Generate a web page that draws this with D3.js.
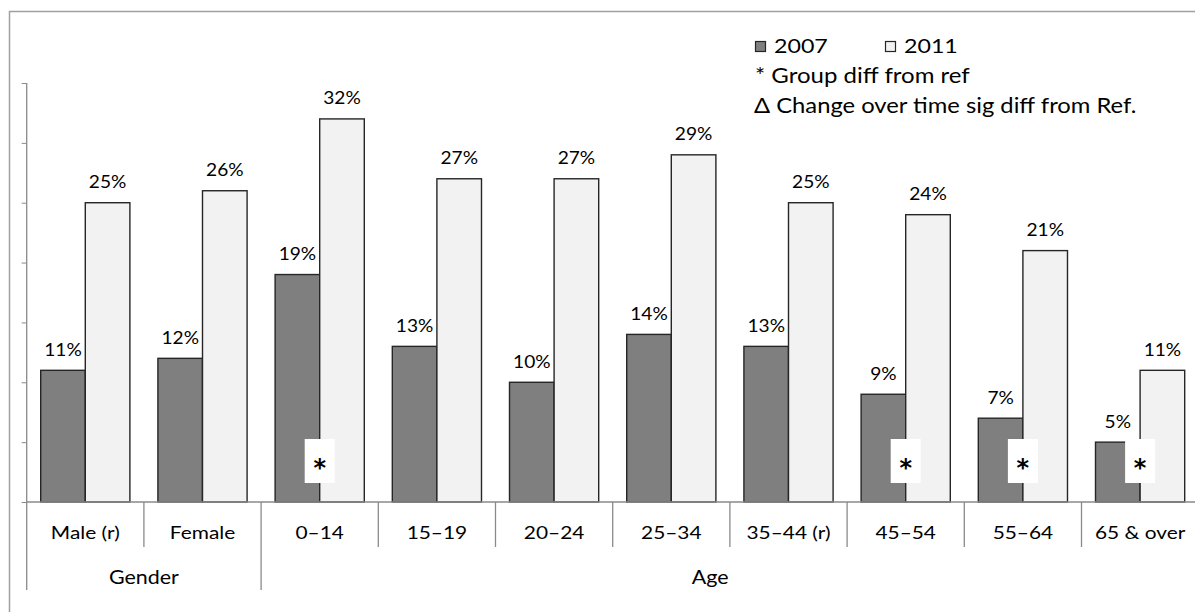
<!DOCTYPE html>
<html>
<head>
<meta charset="utf-8">
<script src="https://cdn.jsdelivr.net/npm/d3@7"></script>
<style>
  html, body { margin: 0; padding: 0; background: #fff; }
  svg { display: block; }
  text { font-family: Lato, "Open Sans", sans-serif; fill: #000; }
</style>
</head>
<body>
<svg id="chart" width="1195" height="612"></svg>
<script>
// Share of each group, 2007 vs 2011 (percent)
const categories = ["Male (r)", "Female", "0–14", "15–19", "20–24", "25–34", "35–44 (r)", "45–54", "55–64", "65 & over"];
const seriesNames = ["2007", "2011"];
const values2007 = [11, 12, 19, 13, 10, 14, 13, 9, 7, 5];
const values2011 = [25, 26, 32, 27, 27, 29, 25, 24, 21, 11];
const yTickValues = [0, 5, 10, 15, 20, 25, 30, 35];
const groupNames = ["Gender", "Age"];
const groupMembers = [["Male (r)", "Female"], ["0–14", "15–19", "20–24", "25–34", "35–44 (r)", "45–54", "55–64", "65 & over"]];
const flaggedGroups = ["0–14", "45–54", "55–64", "65 & over"];
const legendNotes = ["* Group diff from ref", " Δ Change over time sig diff from Ref."];

const svg = d3.select("#chart");
const fills = { "2007": "#7f7f7f", "2011": "#f2f2f2" };
const stretch = 1.16;                 // horizontal widening applied to every label
const plot = { left: 26.7, right: 1198.7, top: 83, bottom: 502 };

const x = d3.scaleBand().domain(categories).range([plot.left, plot.right]).padding(0);
const xs = d3.scaleBand().domain(seriesNames).range([0, x.bandwidth()]).paddingInner(0).paddingOuter(0.314);
const y = d3.scaleLinear().domain([0, 35]).range([plot.bottom, plot.top]);

function label(sel, tx, ty, str, size, anchor) {
  return sel.append("text")
    .attr("transform", `translate(${tx},${ty}) scale(${stretch},1)`)
    .attr("text-anchor", anchor || "middle")
    .style("font-size", size + "px")
    .text(str);
}

// outer frame
svg.append("rect")
  .attr("x", 9.5).attr("y", 11.5).attr("width", 1300).attr("height", 700)
  .attr("fill", "none").attr("stroke", "#a0a0a0").attr("stroke-width", 1.5);

// value axis (no labels, ticks only)
const yAxis = svg.append("g").attr("transform", `translate(${plot.left},0)`)
  .call(d3.axisLeft(y).tickValues(yTickValues).tickSize(5).tickFormat(""));
yAxis.select(".domain").remove();
yAxis.selectAll("line").attr("stroke", "#8a8a8a").attr("stroke-width", 1);
svg.append("line")
  .attr("x1", plot.left).attr("x2", plot.left)
  .attr("y1", plot.top).attr("y2", 590)
  .attr("stroke", "#8a8a8a").attr("stroke-width", 1.3);

// bars
const rows = categories.map((c, i) => ({ cat: c, vals: [values2007[i], values2011[i]] }));
const g = svg.append("g");
rows.forEach(r => {
  seriesNames.forEach((s, j) => {
    g.append("rect")
      .attr("x", x(r.cat) + xs(s))
      .attr("y", y(r.vals[j]))
      .attr("width", xs.bandwidth())
      .attr("height", y(0) - y(r.vals[j]))
      .attr("fill", fills[s])
      .attr("stroke", "#262626")
      .attr("stroke-width", 1.4);
    label(g, x(r.cat) + xs(s) + xs.bandwidth() / 2, y(r.vals[j]) - 14.5, r.vals[j] + "%", 16.5);
  });
});

// category baseline and separators
svg.append("line")
  .attr("x1", plot.left).attr("x2", plot.right)
  .attr("y1", plot.bottom).attr("y2", plot.bottom)
  .attr("stroke", "#8a8a8a").attr("stroke-width", 1.5);
categories.forEach((c, i) => {
  if (i > 0) {
    const isGroupStart = groupMembers.some(m => m[0] === c);
    svg.append("line")
      .attr("x1", x(c)).attr("x2", x(c))
      .attr("y1", plot.bottom).attr("y2", isGroupStart ? 590 : 547)
      .attr("stroke", "#8a8a8a").attr("stroke-width", 1.3);
  }
  label(svg, x(c) + x.bandwidth() / 2, 539, c, 18);
});

// group labels
groupNames.forEach((name, i) => {
  const members = groupMembers[i];
  const x0 = x(members[0]);
  const x1 = Math.min(x(members[members.length - 1]) + x.bandwidth(), 1159);
  label(svg, (x0 + x1) / 2, 584, name, 18.5);
});

// significance flags
flaggedGroups.forEach(c => {
  const cx = x(c) + x.bandwidth() / 2;
  const cy = 461;
  svg.append("rect")
    .attr("x", cx - 15).attr("y", cy - 22).attr("width", 30).attr("height", 44)
    .attr("fill", "#fff");
  svg.append("text")
    .attr("x", cx).attr("y", cy + 15)
    .attr("text-anchor", "middle")
    .style("font-family", "'DejaVu Sans', sans-serif")
    .style("font-weight", "bold")
    .style("font-size", "24px")
    .text("*");
});

// legend
const lg = svg.append("g");
seriesNames.forEach((s, i) => {
  const lx = 755 + i * 130;
  lg.append("rect").attr("x", lx + 0.5).attr("y", 41.5).attr("width", 10).attr("height", 10)
    .attr("fill", fills[s]).attr("stroke", "#262626").attr("stroke-width", 1.2);
  label(lg, lx + 19, 53.3, s, 20, "start");
});
label(lg, 755, 82.7, legendNotes[0], 20.7, "start");
label(lg, 754, 113.3, legendNotes[1], 20.5, "start");
</script>
</body>
</html>
